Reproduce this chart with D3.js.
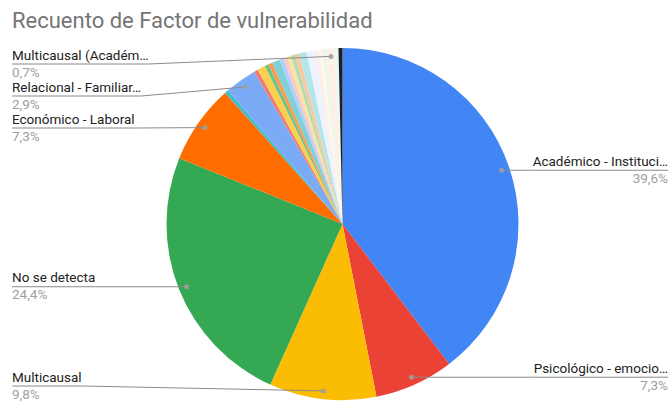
<!DOCTYPE html>
<html>
<head>
<meta charset="utf-8">
<script src="https://cdn.jsdelivr.net/npm/d3@7"></script>
<style>
  body { margin: 0; background: #fff; }
  #container { width: 672px; height: 402px; overflow: hidden; }
  text { font-family: Roboto, "Noto Sans", Arial, sans-serif; }
</style>
</head>
<body>
<div id="container"></div>
<script>
const title = 'Recuento de Factor de vulnerabilidad';

// slices, clockwise from 12 o'clock
const categories = [
  'Académico - Institucional', 'Psicológico - emocional', 'Multicausal', 'No se detecta',
  'Económico - Laboral', 'Otro 1', 'Relacional - Familiar', 'Otro 2', 'Otro 3', 'Otro 4',
  'Otro 5', 'Otro 6', 'Otro 7', 'Otro 8', 'Otro 9', 'Otro 10', 'Otro 11', 'Otro 12',
  'Otro 13', 'Otro 14', 'Otro 15', 'Otro 16', 'Multicausal (Académico)', 'Otro 17', 'Otro 18'
];
const counts = [109, 20, 27, 67, 20, 1, 8, 1, 2, 1, 1, 2, 1, 1, 1, 1, 1, 2, 2, 1, 1, 1, 2, 1, 1];
// text shown next to a slice (null = no label)
const labels = [
  'Académico - Instituci…', 'Psicológico - emocio…', 'Multicausal', 'No se detecta',
  'Económico - Laboral', null, 'Relacional - Familiar…', null, null, null,
  null, null, null, null, null, null, null, null,
  null, null, null, null, 'Multicausal (Académ…', null, null
];
const colors = [
  '#4285f4', '#ea4335', '#fbbc04', '#34a853', '#ff6d01', '#46bdc6', '#7baaf7', '#f07b72',
  '#fcd04f', '#71c287', '#ff994d', '#7ed1d7', '#b3cefb', '#f7cbc7', '#fde49b', '#aedcba',
  '#ffc599', '#b5e5e8', '#ecf3fe', '#fdeeed', '#fff8e6', '#ebf6ee', '#fff0e6', '#e9f7f8', '#1f1f1f'
];

const width = 672, height = 402;
const cx = 342.5, cy = 224, radius = 176;

const data = categories.map((c, i) => ({ name: c, value: counts[i], label: labels[i], color: colors[i] }));
const total = d3.sum(counts);
const fmtPct = v => d3.format('.1f')(v * 100).replace('.', ',') + '%';

const svg = d3.select('#container')
  .append('svg')
  .attr('width', width)
  .attr('height', height);

svg.append('text')
  .attr('x', 12)
  .attr('y', 28)
  .attr('fill', '#757575')
  .style('font-size', '22px')
  .text(title);

const pie = d3.pie().sort(null).value(d => d.value);
const arcs = pie(data);
const arc = d3.arc().innerRadius(0).outerRadius(radius);

const g = svg.append('g').attr('transform', `translate(${cx},${cy})`);
g.selectAll('path')
  .data(arcs)
  .join('path')
  .attr('d', arc)
  .attr('fill', d => d.data.color);

// labels
const dotR = radius - 8;
const items = arcs.filter(d => d.data.label).map(d => {
  const mid = (d.startAngle + d.endAngle) / 2;
  const px = cx + Math.sin(mid) * dotR;
  const py = cy - Math.cos(mid) * dotR;
  return { d, px, py, ly: py, side: mid < Math.PI ? 'right' : 'left' };
});

const minY = 64, maxY = 386, gap = 32;
['left', 'right'].forEach(side => {
  const s = items.filter(it => it.side === side).sort((a, b) => a.py - b.py);
  let prev = -Infinity;
  s.forEach(it => { it.ly = Math.max(it.ly, minY, prev + gap); prev = it.ly; });
  let next = Infinity;
  for (let i = s.length - 1; i >= 0; i--) {
    s[i].ly = Math.min(s[i].ly, maxY, next - gap);
    next = s[i].ly;
  }
});

const lab = svg.append('g');
items.forEach(it => {
  const left = it.side === 'left';
  const tx = left ? 12 : 668;
  const anchor = left ? 'start' : 'end';
  const name = lab.append('text')
    .attr('x', tx)
    .attr('y', it.ly - 4.5)
    .attr('text-anchor', anchor)
    .attr('fill', '#222')
    .style('font-size', '13.5px')
    .text(it.d.data.label);
  lab.append('text')
    .attr('x', tx)
    .attr('y', it.ly + 12.5)
    .attr('text-anchor', anchor)
    .attr('fill', '#a0a0a0')
    .style('font-size', '13.5px')
    .text(fmtPct(it.d.data.value / total));
  const w = name.node().getComputedTextLength();
  const kx = left ? tx + w : tx - w;
  const pts = left
    ? [[tx, it.ly], [Math.min(kx, it.px), it.ly], [it.px, it.py]]
    : [[tx, it.ly], [Math.max(kx, it.px), it.ly], [it.px, it.py]];
  lab.append('path')
    .attr('d', d3.line()(pts))
    .attr('fill', 'none')
    .attr('stroke', '#8a8a8a')
    .attr('stroke-width', 1);
  lab.append('circle')
    .attr('cx', it.px)
    .attr('cy', it.py)
    .attr('r', 2.5)
    .attr('fill', '#9e9e9e')
    .attr('fill-opacity', 0.9);
});
</script>
</body>
</html>
